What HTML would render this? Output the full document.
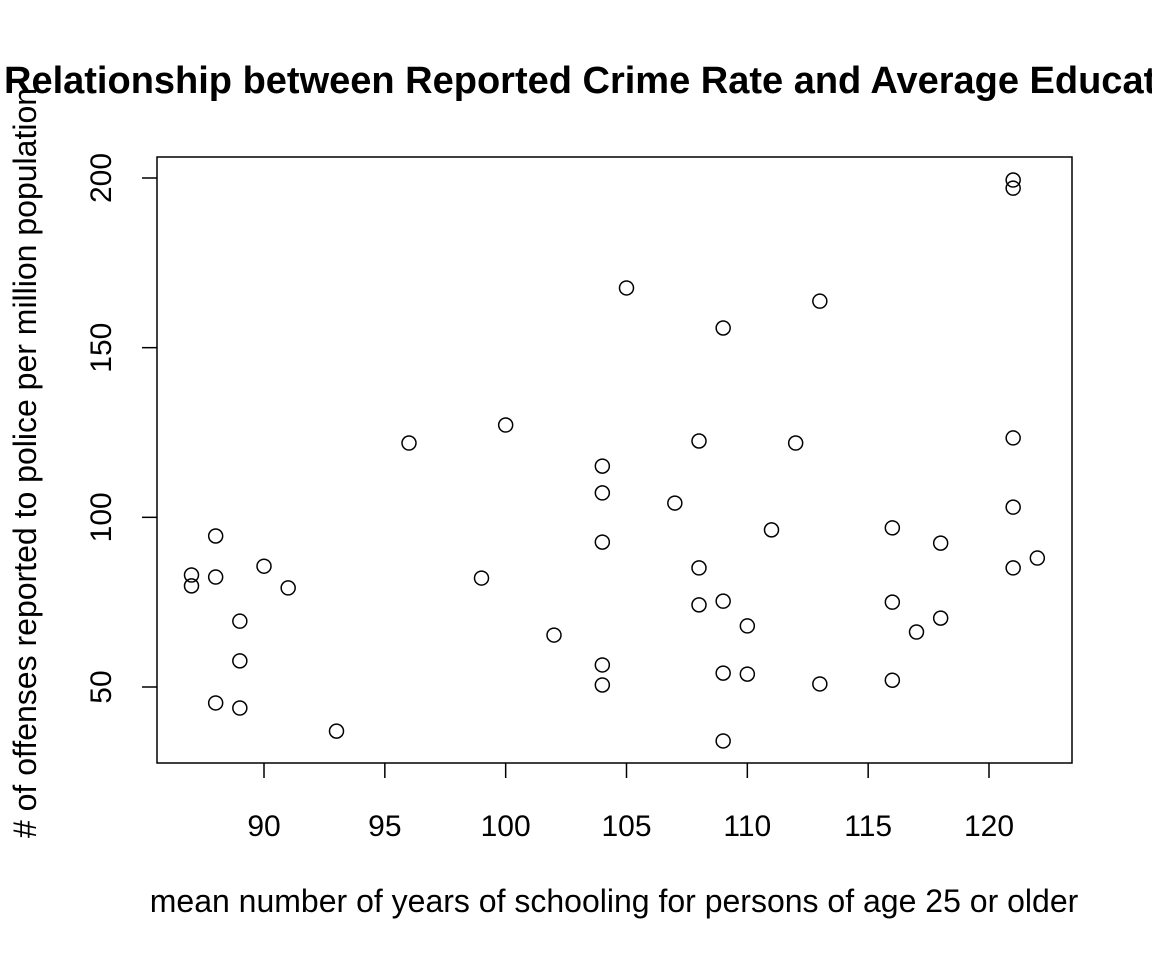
<!DOCTYPE html>
<html><head><meta charset="utf-8"><style>
html,body{margin:0;padding:0;background:#fff;overflow:hidden;}
svg text{font-family:"Liberation Sans",Arial,sans-serif;fill:#000;}
</style></head><body>
<svg id="chart" width="1152" height="960" xmlns="http://www.w3.org/2000/svg">
<rect width="1152" height="960" fill="#fff"/>
<text x="4" y="93" font-size="38" font-weight="bold">Relationship between Reported Crime Rate and Average Education</text>
<rect x="157" y="157" width="915" height="606" fill="none" stroke="#000" stroke-width="1.5"/>
<g id="xaxis"></g>
<g id="yaxis"></g>
<g id="pts"></g>
<text x="614" y="912" font-size="32" text-anchor="middle">mean number of years of schooling for persons of age 25 or older</text>
<text transform="translate(36,463) rotate(-90)" font-size="32" text-anchor="middle"># of offenses reported to police per million population</text>
</svg>
<script>
const xTicks=[90,95,100,105,110,115,120];
const yTicks=[50,100,150,200];
const eduValues=[121,121,105,113,109,96,100,108,112,121,104,104,107,121,111,116,88,104,118,122,90,108,121,87,88,99,87,91,109,108,116,118,89,110,117,102,89,104,109,110,116,113,104,88,89,93,109];
const crimeValues=[199.4,197,167.6,163.7,155.8,121.9,127.2,122.5,121.9,123.4,115.1,107.2,104.2,103.0,96.3,96.9,94.5,92.7,92.4,88.0,85.6,85.1,85.1,83.0,82.4,82.1,79.8,79.2,75.3,74.2,75.0,70.3,69.4,68.0,66.2,65.3,57.7,56.5,54.1,53.8,52.0,50.9,50.6,45.3,43.8,37.0,34.1];
const NS='http://www.w3.org/2000/svg';
function xs(v){return 264+(v-90)*(989-264)/30;}
function ys(v){return 687-(v-50)*(687-178)/150;}
function mk(tag,attrs,parent){const e=document.createElementNS(NS,tag);for(const k in attrs)e.setAttribute(k,attrs[k]);parent.appendChild(e);return e;}
const xg=document.getElementById('xaxis'),yg=document.getElementById('yaxis'),pg=document.getElementById('pts');
for(const t of xTicks){
  const l=mk('line',{x1:xs(t),x2:xs(t),y1:763,y2:778,stroke:'#000','stroke-width':1.5},xg);
  
  
  const tx=mk('text',{x:xs(t),y:836,'font-size':30,'text-anchor':'middle'},xg);tx.textContent=t;
  
  
}
for(const t of yTicks){
  const l=mk('line',{x1:142,x2:157,y1:ys(t),y2:ys(t),stroke:'#000','stroke-width':1.5},yg);
  
  
  const tx=mk('text',{transform:`translate(111,${ys(t)}) rotate(-90)`,'font-size':30,'text-anchor':'middle'},yg);tx.textContent=t;
  
  
}
eduValues.forEach((x,i)=>{
  const c=mk('circle',{cx:xs(x),cy:ys(crimeValues[i]),r:7,fill:'none',stroke:'#000','stroke-width':1.5},pg);
  
  
});
</script>
</body></html>
